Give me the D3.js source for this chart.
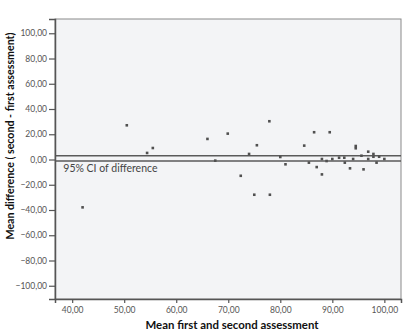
<!DOCTYPE html>
<html>
<head>
<meta charset="utf-8">
<script src="https://cdn.jsdelivr.net/npm/d3@7"></script>
<style>
  body { margin: 0; background: #fff; }
  svg { display: block; }
</style>
</head>
<body>
<div id="graph"></div>
<script>
var margin = { top: 19, right: 2, bottom: 35, left: 55 },
    width = 403 - margin.left - margin.right,
    height = 334 - margin.top - margin.bottom;

// mean of the two assessments
const meanScore = [42.0, 50.5, 54.4, 55.5, 66.0, 67.5, 69.9, 72.4, 74.0, 75.0,
  75.5, 77.9, 78.0, 80.0, 81.0, 84.6, 85.5, 86.5, 87.0, 88.0,
  88.0, 88.9, 89.5, 90.0, 91.3, 92.3, 92.4, 93.4, 94.0, 94.5,
  94.5, 95.6, 96.0, 96.9, 96.9, 97.9, 97.9, 98.5, 99.0, 100.0];
// second - first
const diffScore = [-37.9, 27.1, 5.2, 9.1, 16.3, -0.9, 20.5, -12.9, 4.4, -27.9,
  11.3, 30.3, -27.9, 2.0, -3.8, 11.0, -2.5, 21.6, -6.0, -11.8,
  0.4, -1.2, 21.6, 0.4, 1.4, 1.4, -2.5, -7.0, 0.4, 10.7,
  8.9, 3.0, -7.8, 6.2, 0.4, 4.4, 2.2, -2.5, 2.2, 0.4];

const ciBounds = [3.0, -1.2];
const xTicks = [40, 50, 60, 70, 80, 90, 100];
const yTicks = [100, 80, 60, 40, 20, 0, -20, -40, -60, -80, -100];

const fmt = d3.formatLocale({ decimal: ",", thousands: ".", grouping: [3], currency: ["", ""] }).format(".2f");

const x = d3.scaleLinear().domain([36.7, 103.2]).range([0, width]);
const y = d3.scaleLinear().domain([-110.5, 111.3]).range([height, 0]);

const svg = d3.select("#graph").append("svg")
    .attr("width", 403)
    .attr("height", 334)
    .style("font-family", "Lato, 'Open Sans', sans-serif");

const g = svg.append("g").attr("transform", `translate(${margin.left},${margin.top})`);

g.append("rect")
    .attr("width", width)
    .attr("height", height)
    .attr("fill", "#f3f4f6")
    .attr("stroke", "#8a8a8a")
    .attr("stroke-width", 1);

// CI lines
g.selectAll(".ci")
  .data(ciBounds)
  .join("line")
    .attr("x1", 0)
    .attr("x2", width)
    .attr("y1", d => y(d))
    .attr("y2", d => y(d))
    .attr("stroke", "#5a5a5a")
    .attr("stroke-width", 1.4);

g.append("text")
    .attr("x", x(38.3))
    .attr("y", y(-9.8))
    .attr("font-size", 10.5)
    .attr("fill", "#444")
    .text("95% CI of difference");

// points
g.selectAll(".pt")
  .data(meanScore)
  .join("rect")
    .attr("x", (d, i) => x(d) - 1.3)
    .attr("y", (d, i) => y(diffScore[i]) - 1.3)
    .attr("width", 2.6)
    .attr("height", 2.6)
    .attr("fill", "#505050");

// axes
const yAxis = g.append("g")
    .call(d3.axisLeft(y).tickValues(yTicks).tickFormat(fmt).tickSize(6).tickPadding(2));
const xAxis = g.append("g")
    .attr("transform", `translate(0,${height})`)
    .call(d3.axisBottom(x).tickValues(xTicks).tickFormat(fmt).tickSize(4).tickPadding(4));

[xAxis, yAxis].forEach(a => {
  a.select(".domain").attr("stroke", "#555").attr("stroke-width", 1.5);
  a.selectAll(".tick line").attr("stroke", "#555").attr("stroke-width", 1.2);
  a.selectAll(".tick text").attr("fill", "#555").attr("font-size", 8.5)
    .style("font-family", "Lato, 'Open Sans', sans-serif");
});

// axis titles
svg.append("text")
    .attr("x", 232)
    .attr("y", 329)
    .attr("text-anchor", "middle")
    .attr("font-size", 11)
    .attr("font-weight", "bold")
    .attr("fill", "#111")
    .attr("textLength", 173)
    .attr("lengthAdjust", "spacingAndGlyphs")
    .text("Mean first and second assessment");

svg.append("text")
    .attr("transform", "translate(14,136) rotate(-90)")
    .attr("text-anchor", "middle")
    .attr("font-size", 11)
    .attr("font-weight", "bold")
    .attr("fill", "#111")
    .attr("textLength", 207)
    .attr("lengthAdjust", "spacingAndGlyphs")
    .text("Mean difference ( second - first assessment)");
</script>
</body>
</html>
